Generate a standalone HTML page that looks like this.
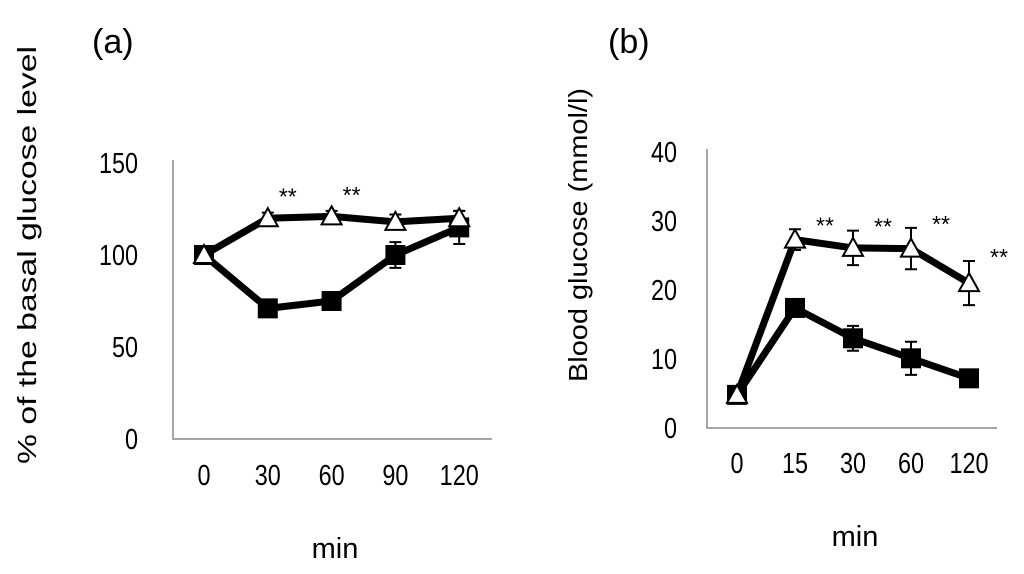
<!DOCTYPE html>
<html><head><meta charset="utf-8"><style>
html,body{margin:0;padding:0;background:#fff;}
svg{display:block;font-family:"Liberation Sans",sans-serif;}
</style></head><body>
<svg id="fig" width="1024" height="574" viewBox="0 0 1024 574">
<text x="92" y="53" font-size="34">(a)</text>
<text x="608" y="53" font-size="34">(b)</text>
<text transform="translate(36,255) rotate(-90)" text-anchor="middle" font-size="26" textLength="418" lengthAdjust="spacingAndGlyphs">% of the basal glucose level</text>
<text transform="translate(587,235) rotate(-90)" text-anchor="middle" font-size="26" textLength="294" lengthAdjust="spacingAndGlyphs">Blood glucose (mmol/l)</text>
<text x="335" y="558" text-anchor="middle" font-size="29">min</text>
<text x="855" y="546" text-anchor="middle" font-size="29">min</text>
</svg>
<script>
// Panel A data
const catsA = ["0","30","60","90","120"];
const triA = [100,120,121,118,120];
const triErrA = [2,3,3,4,4];
const sqA = [100,71,75,100,115];
const sqErrA = [2,2,2,7,9];
const sigA = [false,true,true,false,false];
const yTicksA = [0,50,100,150];
// Panel B data
const catsB = ["0","15","30","60","120"];
const triB = [4.8,27.3,26.1,26.0,21.0];
const triErrB = [1,1.5,2.5,3,3.2];
const sqB = [4.8,17.4,13.0,10.1,7.2];
const sqErrB = [0.5,0.5,1.8,2.4,0.5];
const sigB = [false,true,true,true,true];
const yTicksB = [0,10,20,30,40];

const NS="http://www.w3.org/2000/svg";
const svg=document.getElementById('fig');
function mk(tag,attrs,parent){const e=document.createElementNS(NS,tag);for(const k in attrs)e.setAttribute(k,attrs[k]);(parent||svg).appendChild(e);return e;}

function panel(p){
  const g=mk('g',{});
  
  
  const y=v=>p.y0-(v-p.ymin)/(p.ymax-p.ymin)*(p.y0-p.y1);
  const x=i=>p.xs0+i*p.dx;
  const ax=mk('path',{d:`M${p.ax},${p.y1-3}V${p.y0}H${p.axEnd}`,fill:'none',stroke:'#888','stroke-width':1.5},g);
  
  
  p.yt.forEach(v=>{const t=mk('text',{transform:`translate(${p.tickR},${y(v)+10}) scale(0.9,1.12)`,'text-anchor':'end','font-size':26},g);t.textContent=v;
    
    });
  p.cats.forEach((c,i)=>{const t=mk('text',{transform:`translate(${x(i)},${p.xlY}) scale(0.9,1.12)`,'text-anchor':'middle','font-size':26},g);t.textContent=c;
    
    });
  function series(vals,errs,kind){
    const pts=vals.map((v,i)=>x(i)+','+y(v)).join(' ');
    const l=mk('polyline',{points:pts,fill:'none',stroke:'#000','stroke-width':7,'stroke-linejoin':'round'},g);
    
    
    vals.forEach((v,i)=>{
      const cx=x(i),e=errs[i];
      const eb=mk('path',{d:`M${cx},${y(v+e)}V${y(v-e)}M${cx-6},${y(v+e)}H${cx+6}M${cx-6},${y(v-e)}H${cx+6}`,stroke:'#000','stroke-width':2,fill:'none'},g);
      
      
    });
    return vals.map((v,i)=>[x(i),y(v)]);
  }
  const sq=series(p.sq,p.sqE,'square');
  const tr=series(p.tri,p.triE,'triangle');
  sq.forEach(([cx,cy])=>{const r=mk('rect',{x:cx-10,y:cy-10,width:20,height:20,fill:'#000'},g);
    
    });
  tr.forEach(([cx,cy])=>{const t=mk('polygon',{points:`${cx},${cy-10} ${cx-10},${cy+8} ${cx+10},${cy+8}`,fill:'#fff',stroke:'#000','stroke-width':2},g);
    
    });
  p.sig.forEach((s,i)=>{if(!s)return;const t=mk('text',{x:x(i)+p.starDx,y:y(p.tri[i]+p.triE[i])-p.starDy,'text-anchor':'middle','font-size':23},g);t.textContent='**';
    
    });
}
panel({id:'a',cats:catsA,tri:triA,triE:triErrA,sq:sqA,sqE:sqErrA,sig:sigA,yt:yTicksA,
  ymin:0,ymax:150,y0:439,y1:163,ax:173,axEnd:492,xs0:204,dx:63.8,tickR:138,xlY:485,starDx:20,starDy:8});
panel({id:'b',cats:catsB,tri:triB,triE:triErrB,sq:sqB,sqE:sqErrB,sig:sigB,yt:yTicksB,
  ymin:0,ymax:40,y0:428,y1:152,ax:707,axEnd:997,xs0:737,dx:58,tickR:677,xlY:473,starDx:30,starDy:-4});
</script>
</body></html>
